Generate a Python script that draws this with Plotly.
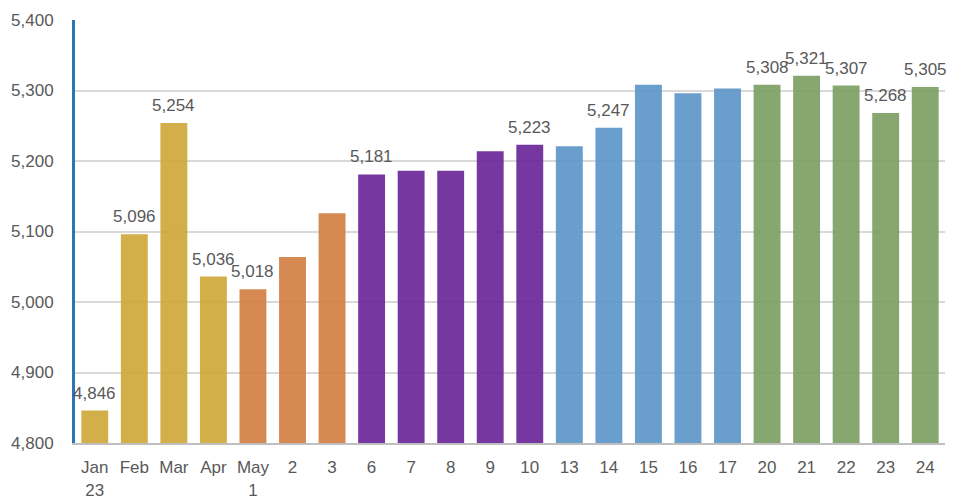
import plotly.graph_objects as go

categories = ["Jan<br>23", "Feb", "Mar", "Apr", "May<br>1", "2", "3", "6", "7", "8", "9", "10",
              "13", "14", "15", "16", "17", "20", "21", "22", "23", "24"]
values = [4846, 5096, 5254, 5036, 5018, 5064, 5126, 5181, 5186, 5186, 5214, 5223,
          5221, 5247, 5308, 5296, 5303, 5308, 5321, 5307, 5268, 5305]
groups = ["gold"] * 4 + ["orange"] * 3 + ["purple"] * 5 + ["blue"] * 5 + ["green"] * 5
show_label = [True, True, True, True, True, False, False, True, False, False, False, True,
              False, True, False, False, False, True, True, True, True, True]
y_ticks = [4800, 4900, 5000, 5100, 5200, 5300, 5400]

observed = {
    "gold": (211, 175, 74),
    "orange": (214, 137, 83),
    "purple": (118, 56, 160),
    "blue": (106, 158, 204),
    "green": (135, 167, 113),
}
alpha = 0.92


def rgba(c):
    base = [max(0, min(255, round((v - 255 * (1 - alpha)) / alpha))) for v in c]
    return f"rgba({base[0]},{base[1]},{base[2]},{alpha})"


colors = [rgba(observed[g]) for g in groups]
font_family = "Liberation Sans, Arial, sans-serif"
text_color = "#595959"
positions = list(range(len(categories)))

fig = go.Figure(go.Bar(
    x=positions, y=values, marker=dict(color=colors, line=dict(width=0)),
    width=0.68, hovertext=categories, hoverinfo="text+y",
))

annotations = []
for p, v, s in zip(positions, values, show_label):
    if s:
        annotations.append(dict(
            x=p, y=v, text=f"{v:,}", showarrow=False, yanchor="bottom", yshift=6,
            font=dict(family=font_family, size=17, color=text_color),
        ))

fig.update_layout(
    width=961, height=492,
    margin=dict(l=67, r=24, t=12, b=57),
    paper_bgcolor="white", plot_bgcolor="white",
    showlegend=False,
    annotations=annotations,
)
fig.update_xaxes(
    tickmode="array", tickvals=positions, ticktext=categories,
    showgrid=False, showline=True, linecolor="#BFBFBF", linewidth=2, zeroline=False,
    ticks="", ticklabelstandoff=8, automargin=False,
    tickfont=dict(family=font_family, size=17, color=text_color),
    range=[-0.5, len(categories) - 0.5],
)
fig.update_yaxes(
    range=[4800, 5400], tickvals=y_ticks, ticktext=[f"{t:,}" for t in y_ticks],
    showgrid=True, gridcolor="#D9D9D9", gridwidth=1.5,
    showline=True, linecolor="#2E75B6", linewidth=3, zeroline=False,
    ticks="", ticklabelstandoff=15, automargin=False,
    tickfont=dict(family=font_family, size=17, color=text_color),
)

fig.write_html("out.html")
